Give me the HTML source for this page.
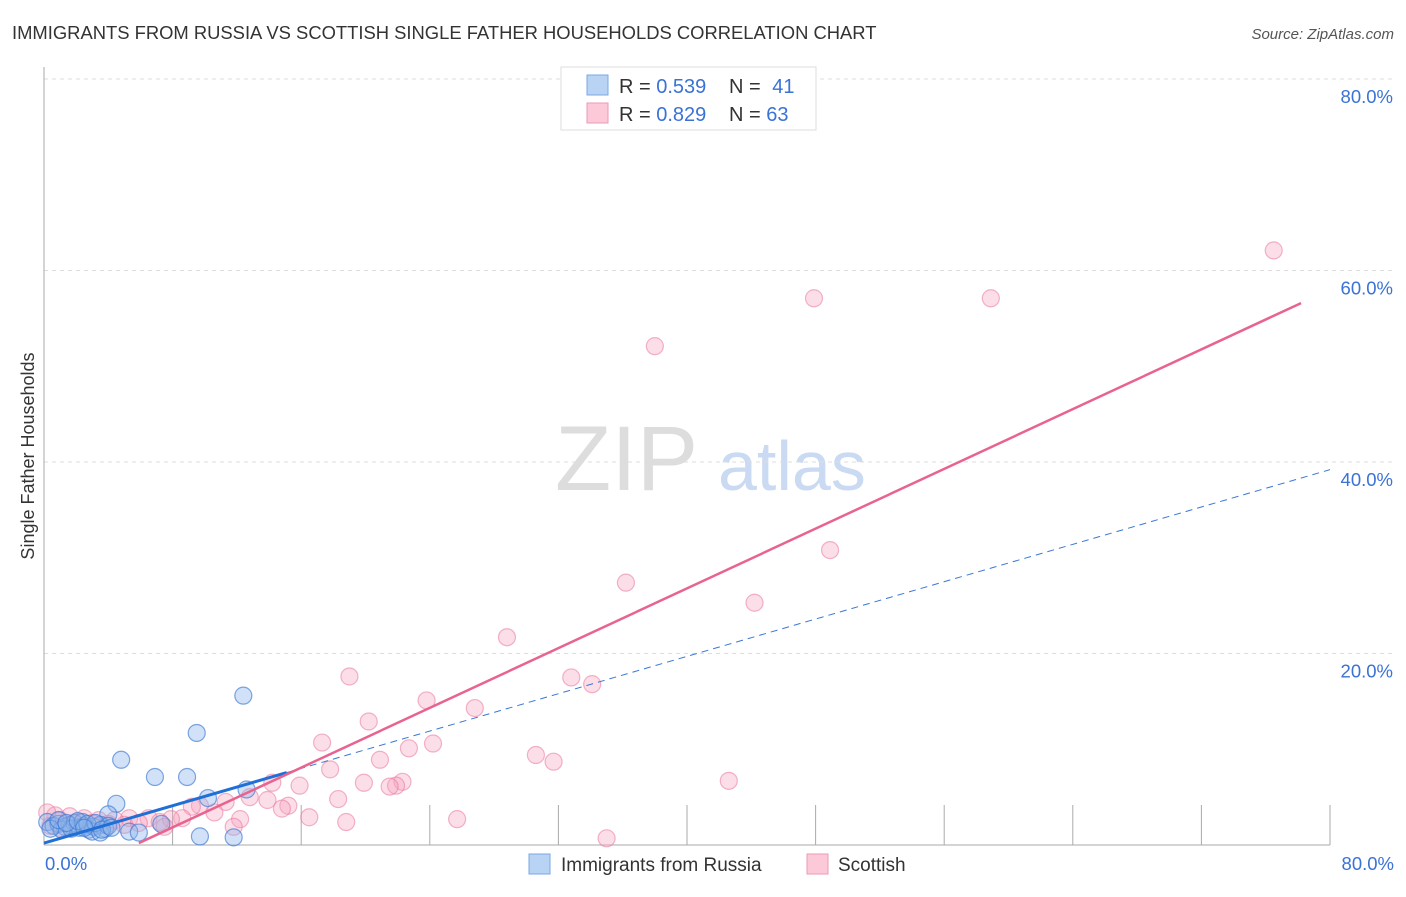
<!DOCTYPE html>
<html><head><meta charset="utf-8"><style>
body{margin:0;background:#fff;font-family:"Liberation Sans",sans-serif;}
svg text{font-family:"Liberation Sans",sans-serif;}
</style></head><body>
<svg id="chart" width="1406" height="892" xmlns="http://www.w3.org/2000/svg">
<text x="12" y="39" font-size="18.4" fill="#333">IMMIGRANTS FROM RUSSIA VS SCOTTISH SINGLE FATHER HOUSEHOLDS CORRELATION CHART</text>
<text x="1394" y="39" font-size="15" fill="#555" text-anchor="end" font-style="italic">Source: ZipAtlas.com</text>
<text x="555" y="490" font-size="92" fill="#ddd" font-family="Liberation Serif,serif">ZIP</text>
<text x="718" y="490" font-size="70" fill="#c9daf2">atlas</text>
<g id="grid"></g>
<g id="axes"></g>
<g id="marks"></g>
<text transform="translate(34,456) rotate(-90)" font-size="18" fill="#333" text-anchor="middle">Single Father Households</text>
<text x="45" y="870" font-size="18.5" fill="#3a72d6">0.0%</text>
<text x="1394" y="870" font-size="18.5" fill="#3a72d6" text-anchor="end">80.0%</text>
<g>
<rect x="561" y="67" width="255" height="63" fill="#fff" stroke="#ddd"/>
<rect x="587" y="75" width="21" height="20" fill="#b9d3f5" stroke="#7aa7e6"/>
<rect x="587" y="103" width="21" height="20" fill="#fbc9d8" stroke="#ee9ab5"/>
<text x="619" y="93" font-size="20" fill="#333">R = <tspan fill="#3a72d6">0.539</tspan></text>
<text x="729" y="93" font-size="20" fill="#333">N = <tspan fill="#3a72d6" dx="6">41</tspan></text>
<text x="619" y="121" font-size="20" fill="#333">R = <tspan fill="#3a72d6">0.829</tspan></text>
<text x="729" y="121" font-size="20" fill="#333">N = <tspan fill="#3a72d6">63</tspan></text>
</g>
<g>
<rect x="529" y="854" width="21" height="20" fill="#b9d3f5" stroke="#7aa7e6"/>
<text x="561" y="871" font-size="19" fill="#333">Immigrants from Russia</text>
<rect x="807" y="854" width="21" height="20" fill="#fbc9d8" stroke="#ee9ab5"/>
<text x="838" y="871" font-size="19" fill="#333">Scottish</text>
</g>
</svg>
<script>
const yTicks=[20,40,60,80];
const yTickLabels=["20.0%","40.0%","60.0%","80.0%"];
const xTicks=[8,16,24,32,40,48,56,64,72,80];
const blueX=[12.4,9.5,4.8,6.9,8.9,12.6,10.2,4.5,4.0,9.7,11.8,5.3,5.9,7.3,0.2,0.6,0.9,1.3,1.6,1.9,2.2,2.5,2.8,3.1,3.5,3.8,1.1,1.7,2.4,3.0,3.5,0.4,0.9,1.4,2.1,2.7,3.2,4.0,2.5,3.6,4.2];
const blueY=[15.6,11.7,8.9,7.1,7.1,5.8,4.9,4.3,3.2,0.9,0.8,1.4,1.3,2.2,2.4,2.0,2.2,1.9,2.1,2.3,1.8,2.0,1.6,1.9,2.1,1.7,1.6,1.7,2.4,1.4,1.3,1.7,2.6,2.3,2.5,2.2,2.3,2.0,1.8,1.6,1.8];
const pinkX=[76.5,47.9,58.9,38.0,48.9,36.2,44.2,28.8,19.0,32.8,34.1,23.8,26.8,20.2,17.3,24.2,22.7,20.9,30.6,31.7,17.8,42.6,22.3,19.9,21.9,21.5,14.2,15.9,12.8,13.9,18.3,15.2,14.8,11.3,9.7,9.2,10.6,16.5,18.8,25.7,35.0,12.2,8.6,7.9,6.5,5.3,4.4,3.4,2.5,1.6,0.7,0.2,1.0,2.1,3.0,4.0,5.0,5.9,7.2,7.5,11.8,1.0,0.4];
const pinkY=[62.1,57.1,57.1,52.1,30.8,27.4,25.3,21.7,17.6,17.5,16.8,15.1,14.3,12.9,10.7,10.6,10.1,8.9,9.4,8.7,7.9,6.7,6.6,6.5,6.2,6.1,6.5,6.2,5.0,4.7,4.8,4.1,3.8,4.5,4.1,4.0,3.4,2.9,2.4,2.7,0.7,2.7,2.8,2.7,2.8,2.8,2.6,2.6,2.8,3.0,3.1,3.4,2.6,2.4,2.3,2.2,2.1,2.3,2.4,1.9,1.9,1.8,2.0];
const blueFit=[0.2,0.4875];
const pinkFit=[-4.4,0.78];
const X0=44,X1=1330,Y0=845,Y1=79;
const sx=v=>X0+(v/80)*(X1-X0);
const sy=v=>Y0-(v/80)*(Y0-Y1);
const NS="http://www.w3.org/2000/svg";
function mk(tag,attrs,parent){const e=document.createElementNS(NS,tag);for(const k in attrs)e.setAttribute(k,attrs[k]);parent.appendChild(e);return e;}
const grid=document.getElementById('grid'),axes=document.getElementById('axes'),marks=document.getElementById('marks');
yTicks.forEach((t,i)=>{
  const l=mk('line',{x1:X0,x2:1394,y1:sy(t),y2:sy(t),stroke:'#ddd','stroke-dasharray':'4,4'},grid);
  
  
  const tx=mk('text',{x:1393,y:sy(t)+24,'font-size':18.5,fill:'#3a72d6','text-anchor':'end'},grid);
  tx.textContent=yTickLabels[i];
  
  
});
const xa=mk('line',{x1:X0,x2:X1,y1:Y0,y2:Y0,stroke:'#aaa'},axes);


const ya=mk('line',{x1:X0,x2:X0,y1:67,y2:Y0,stroke:'#aaa'},axes);


xTicks.forEach(t=>{
  const l=mk('line',{x1:sx(t),x2:sx(t),y1:Y0,y2:Y0-40,stroke:'#aaa'},axes);
  
  
});
pinkX.forEach((v,i)=>{
  const c=mk('circle',{cx:sx(v),cy:sy(pinkY[i]),r:8.5,fill:'rgba(246,160,188,0.35)',stroke:'rgba(232,120,158,0.55)','stroke-width':1.2},marks);
  
  
});
blueX.forEach((v,i)=>{
  const c=mk('circle',{cx:sx(v),cy:sy(blueY[i]),r:8.5,fill:'rgba(140,180,235,0.4)',stroke:'rgba(60,120,210,0.65)','stroke-width':1.2},marks);
  
  
});
const bEnd=15.1;
const bd=mk('line',{x1:sx(bEnd),y1:sy(blueFit[0]+blueFit[1]*bEnd),x2:sx(80),y2:sy(blueFit[0]+blueFit[1]*80),stroke:'#3a78d6','stroke-width':1,'stroke-dasharray':'7,5'},marks);


const bl=mk('line',{x1:sx(0),y1:sy(blueFit[0]),x2:sx(bEnd),y2:sy(blueFit[0]+blueFit[1]*bEnd),stroke:'#1f6fd6','stroke-width':3},marks);


const p0=5.9,p1=78.2;
const pl=mk('line',{x1:sx(p0),y1:sy(pinkFit[0]+pinkFit[1]*p0),x2:sx(p1),y2:sy(pinkFit[0]+pinkFit[1]*p1),stroke:'#e8648f','stroke-width':2.5},marks);


</script>
</body></html>
